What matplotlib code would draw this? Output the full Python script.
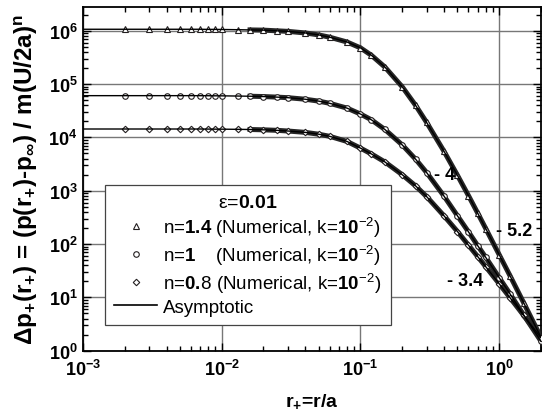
import math
import matplotlib
matplotlib.use('Agg')
import matplotlib.pyplot as plt
from matplotlib.ticker import LogLocator, FuncFormatter, NullFormatter
from matplotlib.lines import Line2D

plt.rcParams['font.family'] = ['Liberation Sans', 'DejaVu Sans']
plt.rcParams['mathtext.fontset'] = 'custom'
plt.rcParams['mathtext.rm'] = 'Liberation Sans'
plt.rcParams['mathtext.it'] = 'Liberation Sans:italic'
plt.rcParams['mathtext.bf'] = 'Liberation Sans:bold'
plt.rcParams['mathtext.default'] = 'regular'

# values
r_plus = [0.001, 0.002, 0.003, 0.004, 0.005, 0.006, 0.007, 0.008, 0.009, 0.01,
          0.013, 0.016, 0.02, 0.025, 0.03, 0.04, 0.05, 0.06, 0.08, 0.1,
          0.12, 0.15, 0.2, 0.25, 0.3, 0.4, 0.5, 0.6, 0.7, 0.8,
          1.0, 1.2, 1.5, 2.0]
dp_n14 = [1.07e6, 1.07e6, 1.07e6, 1.07e6, 1.07e6, 1.07e6, 1.07e6, 1.065e6, 1.065e6, 1.06e6,
          1.05e6, 1.04e6, 1.03e6, 1.0e6, 9.77e5, 9.12e5, 8.38e5, 7.59e5, 6.17e5, 4.79e5,
          3.47e5, 2.09e5, 8.91e4, 3.98e4, 1.91e4, 5.5e3, 1.95e3, 813, 380, 195,
          63.1, 25.1, 7.94, 1.78]
dp_n10 = [6.08e4, 6.08e4, 6.08e4, 6.08e4, 6.08e4, 6.08e4, 6.07e4, 6.06e4, 6.04e4, 6.03e4,
          5.98e4, 5.93e4, 5.85e4, 5.71e4, 5.57e4, 5.21e4, 4.80e4, 4.37e4, 3.55e4, 2.75e4,
          2.14e4, 1.41e4, 7.24e3, 3.89e3, 2.19e3, 794, 339, 170, 93.3, 56.2,
          23.4, 11.5, 4.68, 1.51]
dp_n08 = [1.44e4, 1.44e4, 1.44e4, 1.44e4, 1.44e4, 1.44e4, 1.44e4, 1.435e4, 1.43e4, 1.43e4,
          1.42e4, 1.41e4, 1.39e4, 1.36e4, 1.32e4, 1.245e4, 1.15e4, 1.05e4, 8.41e3, 6.31e3,
          4.90e3, 3.47e3, 2.0e3, 1.23e3, 776, 339, 172, 95.5, 58.2, 37.6,
          18.0, 9.77, 4.61, 1.75]

labels = ['n=$\\mathbf{1.4}$ (Numerical, k=$\\mathbf{10}^{-2}$)',
          'n=$\\mathbf{1}$    (Numerical, k=$\\mathbf{10}^{-2}$)',
          'n=$\\mathbf{0.}\\!\\mathregular{8}$ (Numerical, k=$\\mathbf{10}^{-2}$)']
markers = ['^', 'o', 'D']
msizes = [4.5, 4.0, 3.3]
slopes = ['- 4', '- 5.2', '- 3.4']

ink = '#231f20'
fig = plt.figure(figsize=(5.42, 4.14), dpi=100)
ax = fig.add_axes([0.1531, 0.1505, 0.845, 0.8312])

series = [dp_n14, dp_n10, dp_n08]
handles = []
for ys, mk, ms, lab in zip(series, markers, msizes, labels):
    # the dense, overlapping markers of the reference read as a dark band
    ax.plot(r_plus[11:], ys[11:], '-', color='#262626', lw=3.6, zorder=3)
    h, = ax.plot(r_plus[1:], ys[1:], ls='none', marker=mk, ms=ms, mfc='white',
                 mec=ink, mew=0.8, zorder=4, label=lab)
    handles.append(h)
    ax.plot(r_plus, ys, '-', color='black', lw=1.0, zorder=5)

asym = Line2D([], [], color='black', lw=1.2, label='Asymptotic')
handles.append(asym)

ax.set_xscale('log')
ax.set_yscale('log')
ax.set_xlim(1e-3, 2)
ax.set_ylim(1, 2.85e6)

ax.grid(True, which='major', color='#777777', lw=1.0)
ax.set_axisbelow(True)

ax.xaxis.set_major_locator(LogLocator(base=10, numticks=10))
ax.yaxis.set_major_locator(LogLocator(base=10, numticks=10))
ax.xaxis.set_minor_locator(LogLocator(base=10, subs=range(2, 10), numticks=20))
ax.yaxis.set_minor_locator(LogLocator(base=10, subs=range(2, 10), numticks=20))
ax.xaxis.set_minor_formatter(NullFormatter())
ax.yaxis.set_minor_formatter(NullFormatter())
fmt = FuncFormatter(lambda v, p: '$\\mathbf{10^{%d}}$' % round(math.log10(v)))
ax.xaxis.set_major_formatter(fmt)
ax.yaxis.set_major_formatter(fmt)

ax.tick_params(which='both', direction='in', top=True, right=True, width=1.0,
               labelsize=13)
ax.tick_params(axis='x', pad=6)
ax.tick_params(axis='y', pad=4)
ax.tick_params(which='major', length=6)
ax.tick_params(which='minor', length=3.5)
for s in ax.spines.values():
    s.set_linewidth(1.3)

ax.set_xlabel('r$_\\mathbf{+}$=$\\mathregular{r/a}$', fontsize=14, fontweight='bold')
ax.xaxis.set_label_coords(0.5, -0.118)
ax.set_ylabel('Δp$_\\mathbf{+}$(r$_\\mathbf{+}$) = (p(r$_\\mathbf{+}$)-p$_\\infty$) / m(U/2a)$^\\mathbf{n}$',
              fontsize=17.5, fontweight='bold')
ax.yaxis.set_label_coords(-0.094, 0.5)

ax.text(0.34, 2.0e3, slopes[0], fontsize=13, fontweight='bold', ha='left', va='center', zorder=6)
ax.text(0.951, 176, slopes[1], fontsize=13, fontweight='bold', ha='left', va='center', zorder=6)
ax.text(0.423, 20.4, slopes[2], fontsize=13, fontweight='bold', ha='left', va='center', zorder=6)

leg = ax.legend(handles=handles, loc='lower left', bbox_to_anchor=(0.048, 0.075),
                borderaxespad=0, fontsize=13.5, title='ε=$\\mathbf{0.01}$', title_fontsize=14,
                frameon=True, fancybox=False, edgecolor='#444444', framealpha=1,
                handlelength=2.3, handletextpad=0.3, labelspacing=0.2, borderpad=0.5)
leg.get_frame().set_linewidth(0.9)
leg.set_zorder(10)

fig.savefig('out.png', dpi=100)
